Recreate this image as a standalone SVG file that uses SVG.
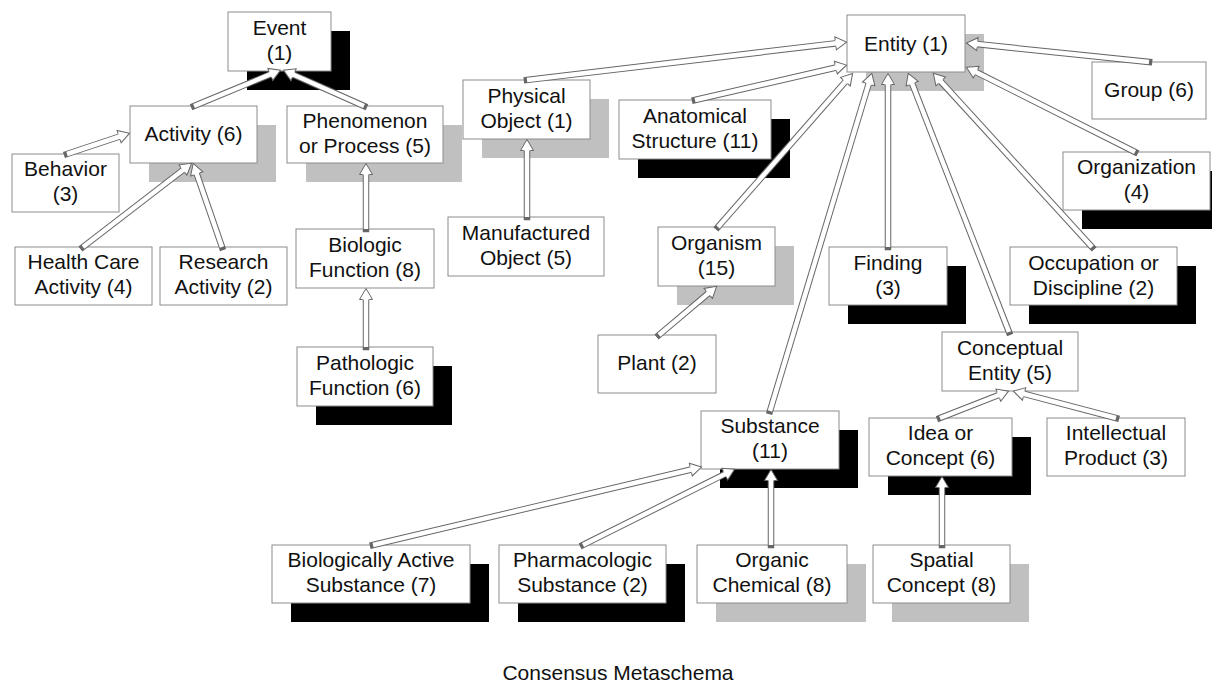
<svg xmlns="http://www.w3.org/2000/svg" width="1212" height="684" viewBox="0 0 1212 684">
<style>
.b{fill:#fff;stroke:#8c8c8c;stroke-width:1}
.sk{fill:#000}
.sg{fill:#c0c0c0}
text{font-family:"Liberation Sans",Arial,sans-serif;font-size:21px;fill:#111;text-anchor:middle}
.co{stroke:#666;stroke-width:6.5;stroke-linecap:square}
.ci{stroke:#fff;stroke-width:4.5;marker-end:url(#ah)}
</style>
<defs>
<marker id="ah" markerUnits="userSpaceOnUse" markerWidth="14" markerHeight="16" refX="0.5" refY="7" orient="auto" overflow="visible">
<path d="M0,3.75 L0,0.5 L11,7 L0,13.5 L0,10.25" fill="#fff" stroke="#666" stroke-width="1"/>
</marker>
</defs>
<rect width="1212" height="684" fill="#fff"/>
<g id="nodes">
<g id="event"><rect class="sk" x="247" y="31" width="103" height="59"/><rect class="b" x="228" y="12" width="103" height="59"/><text x="279.5" y="35">Event</text><text x="279.5" y="60">(1)</text></g>
<g id="activity"><rect class="sg" x="149" y="125" width="127" height="57"/><rect class="b" x="130" y="106" width="127" height="57"/><text x="193.5" y="141">Activity (6)</text></g>
<g id="behavior"><rect class="b" x="12" y="154" width="107" height="58"/><text x="65.5" y="176">Behavior</text><text x="65.5" y="201">(3)</text></g>
<g id="phenomenon"><rect class="sg" x="306" y="125" width="156" height="57"/><rect class="b" x="287" y="106" width="156" height="57"/><text x="365" y="128">Phenomenon</text><text x="365" y="153">or Process (5)</text></g>
<g id="healthcare"><rect class="b" x="15" y="247" width="137" height="58"/><text x="83.5" y="269">Health Care</text><text x="83.5" y="294">Activity (4)</text></g>
<g id="research"><rect class="b" x="160" y="247" width="127" height="58"/><text x="223.5" y="269">Research</text><text x="223.5" y="294">Activity (2)</text></g>
<g id="biologic"><rect class="b" x="296" y="229" width="138" height="59"/><text x="365" y="252">Biologic</text><text x="365" y="277">Function (8)</text></g>
<g id="pathologic"><rect class="sk" x="316" y="366" width="136" height="59"/><rect class="b" x="297" y="347" width="136" height="59"/><text x="365" y="370">Pathologic</text><text x="365" y="395">Function (6)</text></g>
<g id="physical"><rect class="sg" x="482" y="99" width="127" height="59"/><rect class="b" x="463" y="80" width="127" height="59"/><text x="526.5" y="103">Physical</text><text x="526.5" y="128">Object (1)</text></g>
<g id="manufactured"><rect class="b" x="448" y="217" width="156" height="59"/><text x="526" y="240">Manufactured</text><text x="526" y="265">Object (5)</text></g>
<g id="anatomical"><rect class="sk" x="638" y="119" width="152" height="59"/><rect class="b" x="619" y="100" width="152" height="59"/><text x="695" y="123">Anatomical</text><text x="695" y="148">Structure (11)</text></g>
<g id="entity"><rect class="sg" x="866" y="34" width="118" height="57"/><rect class="b" x="847" y="15" width="118" height="57"/><text x="906" y="51">Entity (1)</text></g>
<g id="group"><rect class="b" x="1092" y="62" width="114" height="57"/><text x="1149" y="97">Group (6)</text></g>
<g id="organization"><rect class="sk" x="1082" y="171" width="147" height="58"/><rect class="b" x="1063" y="152" width="147" height="58"/><text x="1136.5" y="174">Organization</text><text x="1136.5" y="199">(4)</text></g>
<g id="organism"><rect class="sg" x="677" y="246" width="117" height="59"/><rect class="b" x="658" y="227" width="117" height="59"/><text x="716.5" y="250">Organism</text><text x="716.5" y="275">(15)</text></g>
<g id="finding"><rect class="sk" x="848" y="266" width="118" height="58"/><rect class="b" x="829" y="247" width="118" height="58"/><text x="888" y="270">Finding</text><text x="888" y="295">(3)</text></g>
<g id="occupation"><rect class="sk" x="1029" y="266" width="167" height="58"/><rect class="b" x="1010" y="247" width="167" height="58"/><text x="1093.5" y="270">Occupation or</text><text x="1093.5" y="295">Discipline (2)</text></g>
<g id="plant"><rect class="b" x="598" y="335" width="118" height="58"/><text x="657" y="370">Plant (2)</text></g>
<g id="conceptual"><rect class="b" x="942" y="332" width="136" height="59"/><text x="1010" y="355">Conceptual</text><text x="1010" y="380">Entity (5)</text></g>
<g id="substance"><rect class="sk" x="720" y="430" width="138" height="58"/><rect class="b" x="701" y="411" width="138" height="58"/><text x="770" y="433">Substance</text><text x="770" y="458">(11)</text></g>
<g id="idea"><rect class="sk" x="888" y="437" width="143" height="58"/><rect class="b" x="869" y="418" width="143" height="58"/><text x="940.5" y="440">Idea or</text><text x="940.5" y="465">Concept (6)</text></g>
<g id="intellectual"><rect class="b" x="1047" y="418" width="138" height="58"/><text x="1116" y="440">Intellectual</text><text x="1116" y="465">Product (3)</text></g>
<g id="bioactive"><rect class="sk" x="291" y="564" width="198" height="58"/><rect class="b" x="272" y="545" width="198" height="58"/><text x="371" y="567">Biologically Active</text><text x="371" y="592">Substance (7)</text></g>
<g id="pharmacologic"><rect class="sk" x="518" y="564" width="167" height="58"/><rect class="b" x="499" y="545" width="167" height="58"/><text x="582.5" y="567">Pharmacologic</text><text x="582.5" y="592">Substance (2)</text></g>
<g id="organic"><rect class="sg" x="716" y="564" width="150" height="58"/><rect class="b" x="697" y="545" width="150" height="58"/><text x="772" y="567">Organic</text><text x="772" y="592">Chemical (8)</text></g>
<g id="spatial"><rect class="sg" x="892" y="564" width="137" height="58"/><rect class="b" x="873" y="545" width="137" height="58"/><text x="941.5" y="567">Spatial</text><text x="941.5" y="592">Concept (8)</text></g>
</g>
<g id="connectors">
<line class="co" x1="194" y1="106" x2="270.8" y2="74.2"/><line class="ci" x1="194" y1="106" x2="270.8" y2="74.2"/>
<line class="co" x1="364" y1="106" x2="293.1" y2="74.5"/><line class="ci" x1="364" y1="106" x2="293.1" y2="74.5"/>
<line class="co" x1="67" y1="154" x2="119.6" y2="136.5"/><line class="ci" x1="67" y1="154" x2="119.6" y2="136.5"/>
<line class="co" x1="83" y1="247" x2="183.3" y2="169.7"/><line class="ci" x1="83" y1="247" x2="183.3" y2="169.7"/>
<line class="co" x1="222" y1="247" x2="196.6" y2="173.4"/><line class="ci" x1="222" y1="247" x2="196.6" y2="173.4"/>
<line class="co" x1="366" y1="229" x2="366" y2="174"/><line class="ci" x1="366" y1="229" x2="366" y2="174"/>
<line class="co" x1="366" y1="347" x2="366" y2="299"/><line class="ci" x1="366" y1="347" x2="366" y2="299"/>
<line class="co" x1="527" y1="217" x2="527" y2="150"/><line class="ci" x1="527" y1="217" x2="527" y2="150"/>
<line class="co" x1="527" y1="80" x2="836.1" y2="43.3"/><line class="ci" x1="527" y1="80" x2="836.1" y2="43.3"/>
<line class="co" x1="695" y1="100" x2="836.3" y2="67.5"/><line class="ci" x1="695" y1="100" x2="836.3" y2="67.5"/>
<line class="co" x1="718" y1="227" x2="845.7" y2="81.3"/><line class="ci" x1="718" y1="227" x2="845.7" y2="81.3"/>
<line class="co" x1="770" y1="411" x2="868.8" y2="83.5"/><line class="ci" x1="770" y1="411" x2="868.8" y2="83.5"/>
<line class="co" x1="888" y1="247" x2="888" y2="84"/><line class="ci" x1="888" y1="247" x2="888" y2="84"/>
<line class="co" x1="1009" y1="332" x2="912" y2="83.2"/><line class="ci" x1="1009" y1="332" x2="912" y2="83.2"/>
<line class="co" x1="1092" y1="247" x2="940.4" y2="81.1"/><line class="ci" x1="1092" y1="247" x2="940.4" y2="81.1"/>
<line class="co" x1="1135" y1="152" x2="975.8" y2="71.9"/><line class="ci" x1="1135" y1="152" x2="975.8" y2="71.9"/>
<line class="co" x1="1149" y1="62" x2="976.9" y2="44.1"/><line class="ci" x1="1149" y1="62" x2="976.9" y2="44.1"/>
<line class="co" x1="659" y1="335" x2="708.6" y2="293.1"/><line class="ci" x1="659" y1="335" x2="708.6" y2="293.1"/>
<line class="co" x1="373" y1="545" x2="691.3" y2="469.5"/><line class="ci" x1="373" y1="545" x2="691.3" y2="469.5"/>
<line class="co" x1="583" y1="545" x2="725.2" y2="473.9"/><line class="ci" x1="583" y1="545" x2="725.2" y2="473.9"/>
<line class="co" x1="771" y1="545" x2="771" y2="480"/><line class="ci" x1="771" y1="545" x2="771" y2="480"/>
<line class="co" x1="940" y1="418" x2="998.8" y2="395"/><line class="ci" x1="940" y1="418" x2="998.8" y2="395"/>
<line class="co" x1="1116" y1="418" x2="1023.6" y2="393.8"/><line class="ci" x1="1116" y1="418" x2="1023.6" y2="393.8"/>
<line class="co" x1="942" y1="545" x2="942" y2="487"/><line class="ci" x1="942" y1="545" x2="942" y2="487"/>
</g>
<text id="caption" x="618" y="680">Consensus Metaschema</text>
</svg>
